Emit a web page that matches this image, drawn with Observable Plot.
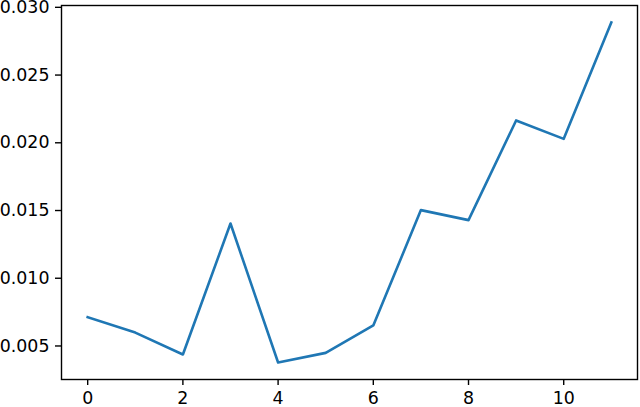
<!DOCTYPE html>
<html>
<head>
<meta charset="utf-8">
<script src="https://cdn.jsdelivr.net/npm/d3@7"></script>
<script src="https://cdn.jsdelivr.net/npm/@observablehq/plot@0.6"></script>
<style>
  html, body { margin: 0; padding: 0; background: #fff; }
  svg { display: block; }
</style>
</head>
<body>
<div id="chart"></div>
<script>
const xs = [0, 1, 2, 3, 4, 5, 6, 7, 8, 9, 10, 11];
const values = [0.00713, 0.00599, 0.00437, 0.01404, 0.00378, 0.00449, 0.00652, 0.01503, 0.01429, 0.02165, 0.02029, 0.02888];
const xTicks = [0, 2, 4, 6, 8, 10];
const yTicks = [0.005, 0.010, 0.015, 0.020, 0.025, 0.030];

const data = xs.map((x, i) => ({x, y: values[i]}));

const chart = Plot.plot({
  width: 640,
  height: 407,
  marginLeft: 61,
  marginRight: 3,
  marginTop: 5,
  marginBottom: 28,
  style: {fontFamily: "DejaVu Sans", fontSize: "17.4px", color: "#000", background: "#fff"},
  x: {domain: [-0.55, 11.55], ticks: xTicks, tickFormat: d3.format("d"), label: null},
  y: {domain: [0.002525, 0.030135], ticks: yTicks, tickFormat: d3.format(".3f"), label: null},
  marks: [
    Plot.line(data, {x: "x", y: "y", stroke: "#1f77b4", strokeWidth: 2.6, strokeLinejoin: "round", strokeLinecap: "square"}),
    Plot.frame({stroke: "#000", strokeWidth: 1.4}),
    Plot.axisX({ticks: xTicks, tickFormat: d3.format("d"), tickSize: 6, tickPadding: 6, strokeWidth: 1.4, label: null}),
    Plot.axisY({ticks: yTicks, tickFormat: d3.format(".3f"), tickSize: 6, tickPadding: 6, strokeWidth: 1.4, label: null})
  ]
});
document.getElementById("chart").appendChild(chart);
</script>
</body>
</html>
